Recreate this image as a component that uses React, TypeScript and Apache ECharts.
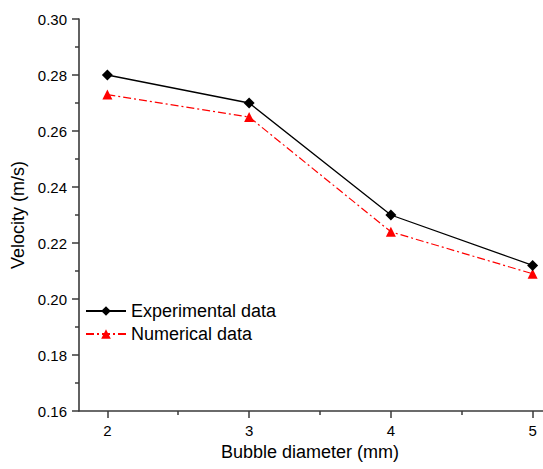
import React, { useEffect, useRef } from "react";
import * as echarts from "echarts";

const diameters = [2, 3, 4, 5];
const experimental = [0.28, 0.27, 0.23, 0.212];
const numerical = [0.273, 0.265, 0.224, 0.209];
const majorXTicks = [2, 3, 4, 5];
const minorXTicks = [2.5, 3.5, 4.5];

const FONT = "Liberation Sans, Arial, sans-serif";
const AXIS_COLOR = "#3a3a3a";

export default function App() {
  const ref = useRef<HTMLDivElement>(null);
  useEffect(() => {
    document.body.style.margin = "0";
    document.body.style.overflow = "hidden";
    const chart = echarts.init(ref.current!, null, { renderer: "svg" });
    chart.setOption({
      animation: false,
      backgroundColor: "#ffffff",
      textStyle: { fontFamily: FONT },
      grid: { left: 79, top: 19, bottom: 58, right: 0 },
      legend: {
        orient: "vertical",
        left: 80,
        top: 297,
        itemWidth: 40,
        itemHeight: 12,
        itemGap: 5,
        textStyle: { fontFamily: FONT, fontSize: 18, color: "#000" },
        data: ["Experimental data", "Numerical data"],
      },
      xAxis: [
        {
          type: "value",
          min: 1.8,
          max: 5.2,
          name: "Bubble diameter (mm)",
          nameLocation: "middle",
          nameGap: 31,
          nameTextStyle: { fontFamily: FONT, fontSize: 18, color: "#000", padding: [0, 20, 0, 0] },
          axisLine: { show: true, lineStyle: { color: AXIS_COLOR, width: 1.6 } },
          axisTick: { show: true, customValues: majorXTicks, length: 7, lineStyle: { color: AXIS_COLOR, width: 1.5 } },
          axisLabel: { customValues: majorXTicks, margin: 12, fontFamily: FONT, fontSize: 15, color: "#000" },
          splitLine: { show: false },
        },
        {
          type: "value",
          min: 1.8,
          max: 5.2,
          position: "bottom",
          axisLine: { show: false },
          axisTick: { show: true, customValues: minorXTicks, length: 4, lineStyle: { color: AXIS_COLOR, width: 1.5 } },
          axisLabel: { show: false },
          splitLine: { show: false },
        },
      ],
      yAxis: {
        type: "value",
        min: 0.16,
        max: 0.3,
        interval: 0.02,
        name: "Velocity (m/s)",
        nameLocation: "middle",
        nameGap: 47,
        nameTextStyle: { fontFamily: FONT, fontSize: 18, color: "#000" },
        axisLine: { show: true, lineStyle: { color: AXIS_COLOR, width: 1.6 } },
        axisTick: { show: true, length: 7, lineStyle: { color: AXIS_COLOR, width: 1.5 } },
        minorTick: { show: true, splitNumber: 2, length: 4, lineStyle: { color: AXIS_COLOR, width: 1.5 } },
        axisLabel: {
          margin: 12,
          fontFamily: FONT,
          fontSize: 15,
          color: "#000",
          formatter: (v: number) => v.toFixed(2),
        },
        splitLine: { show: false },
      },
      series: [
        {
          name: "Experimental data",
          type: "line",
          data: diameters.map((d, i) => [d, experimental[i]]),
          symbol: "diamond",
          symbolSize: 11,
          lineStyle: { color: "#000", width: 1.3 },
          itemStyle: { color: "#000" },
          z: 3,
        },
        {
          name: "Numerical data",
          type: "line",
          data: diameters.map((d, i) => [d, numerical[i]]),
          symbol: "triangle",
          symbolSize: 10,
          lineStyle: { color: "#ff0000", width: 1.2, type: [8, 3, 2, 3] },
          itemStyle: { color: "#ff0000" },
          z: 2,
        },
      ],
    });
    return () => chart.dispose();
  }, []);
  return (
    <div
      ref={ref}
      style={{ position: "fixed", left: 0, top: 0, width: 561, height: 469 }}
    />
  );
}
